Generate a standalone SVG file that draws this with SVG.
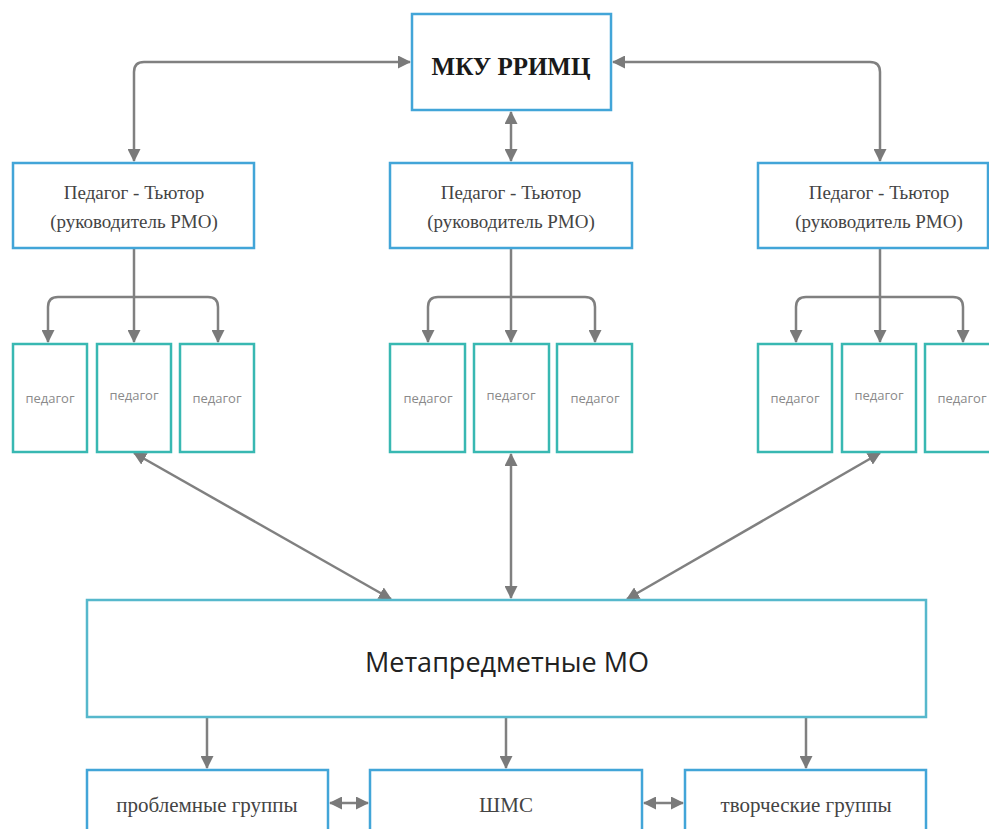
<svg xmlns="http://www.w3.org/2000/svg" width="989" height="829" viewBox="0 0 989 829">
<defs>
<marker id="ah" markerWidth="13" markerHeight="13" refX="12" refY="6.5" orient="auto-start-reverse" markerUnits="userSpaceOnUse">
<path d="M0,0 L13,6.5 L0,13 Z" fill="#7a7a7a"/>
</marker>
<style>
.blue{fill:#fff;stroke:#42a5d8;stroke-width:2.5}
.teal{fill:#fff;stroke:#38b8b2;stroke-width:2.5}
.mo{fill:#fff;stroke:#56b8cc;stroke-width:2.5}
.c{fill:none;stroke:#808080;stroke-width:2.5}
.ser{font-family:"Liberation Serif",serif;fill:#444;text-anchor:middle}
.ped{font-family:"Open Sans","Liberation Sans",sans-serif;font-size:13px;fill:#8a8a8a;text-anchor:middle}
</style>
</defs>
<rect width="989" height="829" fill="#fff"/>
<g id="connectors">
<path class="c" d="M410,62 H144 Q134,62 134,72 V161" marker-start="url(#ah)" marker-end="url(#ah)"/>
<path class="c" d="M613,62 H870 Q880,62 880,72 V161" marker-start="url(#ah)" marker-end="url(#ah)"/>
<path class="c" d="M511,112 V161" marker-start="url(#ah)" marker-end="url(#ah)"/>
<path class="c" d="M134,249 V342" marker-end="url(#ah)"/>
<path class="c" d="M134,297 H58 Q48,297 48,307 V342" marker-end="url(#ah)"/>
<path class="c" d="M134,297 H208 Q218,297 218,307 V342" marker-end="url(#ah)"/>
<path class="c" d="M511,249 V342" marker-end="url(#ah)"/>
<path class="c" d="M511,297 H438 Q428,297 428,307 V342" marker-end="url(#ah)"/>
<path class="c" d="M511,297 H585 Q595,297 595,307 V342" marker-end="url(#ah)"/>
<path class="c" d="M880,249 V342" marker-end="url(#ah)"/>
<path class="c" d="M880,297 H806 Q796,297 796,307 V342" marker-end="url(#ah)"/>
<path class="c" d="M880,297 H953 Q963,297 963,307 V342" marker-end="url(#ah)"/>
<path class="c" d="M134,453 L391,599" marker-start="url(#ah)" marker-end="url(#ah)"/>
<path class="c" d="M511,454 V598" marker-start="url(#ah)" marker-end="url(#ah)"/>
<path class="c" d="M880,453 L627,599" marker-start="url(#ah)" marker-end="url(#ah)"/>
<path class="c" d="M207,718 V768" marker-end="url(#ah)"/>
<path class="c" d="M506,718 V768" marker-end="url(#ah)"/>
<path class="c" d="M806,718 V768" marker-end="url(#ah)"/>
<path class="c" d="M330,803 H368" marker-start="url(#ah)" marker-end="url(#ah)"/>
<path class="c" d="M644,803 H683" marker-start="url(#ah)" marker-end="url(#ah)"/>
</g>
<g id="mku"><rect class="blue" x="412" y="14" width="199" height="96"/><text class="ser" x="511" y="75" font-size="25" font-weight="bold" style="fill:#1a1a1a">МКУ РРИМЦ</text></g>
<g id="tutor1"><rect class="blue" x="13" y="163" width="241" height="85"/><text class="ser" x="134" y="199" font-size="19">Педагог - Тьютор</text><text class="ser" x="134" y="228" font-size="19">(руководитель РМО)</text></g>
<g id="tutor2"><rect class="blue" x="390" y="163" width="242" height="85"/><text class="ser" x="511" y="199" font-size="19">Педагог - Тьютор</text><text class="ser" x="511" y="228" font-size="19">(руководитель РМО)</text></g>
<g id="tutor3"><rect class="blue" x="758" y="163" width="230" height="85"/><text class="ser" x="879" y="199" font-size="19">Педагог - Тьютор</text><text class="ser" x="879" y="228" font-size="19">(руководитель РМО)</text></g>
<g id="p1"><rect class="teal" x="13" y="344" width="74" height="108"/><text class="ped" x="50" y="403">педагог</text></g>
<g id="p2"><rect class="teal" x="97" y="344" width="74" height="108"/><text class="ped" x="134" y="400">педагог</text></g>
<g id="p3"><rect class="teal" x="180" y="344" width="74" height="108"/><text class="ped" x="217" y="403">педагог</text></g>
<g id="p4"><rect class="teal" x="390" y="344" width="75" height="108"/><text class="ped" x="428" y="403">педагог</text></g>
<g id="p5"><rect class="teal" x="474" y="344" width="75" height="108"/><text class="ped" x="511" y="400">педагог</text></g>
<g id="p6"><rect class="teal" x="557" y="344" width="75" height="108"/><text class="ped" x="595" y="403">педагог</text></g>
<g id="p7"><rect class="teal" x="758" y="344" width="74" height="108"/><text class="ped" x="795" y="403">педагог</text></g>
<g id="p8"><rect class="teal" x="842" y="344" width="74" height="108"/><text class="ped" x="879" y="400">педагог</text></g>
<g id="p9"><rect class="teal" x="925" y="344" width="74" height="108"/><text class="ped" x="962" y="403">педагог</text></g>
<g id="mo"><rect class="mo" x="87" y="600" width="839" height="117"/><text x="507" y="672" font-family="'Open Sans','Liberation Sans',sans-serif" font-size="27" fill="#222" text-anchor="middle">Метапредметные МО</text></g>
<g id="prob"><rect class="blue" x="87" y="770" width="241" height="70"/><text class="ser" x="207" y="812" font-size="21">проблемные группы</text></g>
<g id="shms"><rect class="blue" x="370" y="770" width="272" height="70"/><text class="ser" x="506" y="812" font-size="21">ШМС</text></g>
<g id="tvor"><rect class="blue" x="685" y="770" width="241" height="70"/><text class="ser" x="806" y="812" font-size="21">творческие группы</text></g>
</svg>
